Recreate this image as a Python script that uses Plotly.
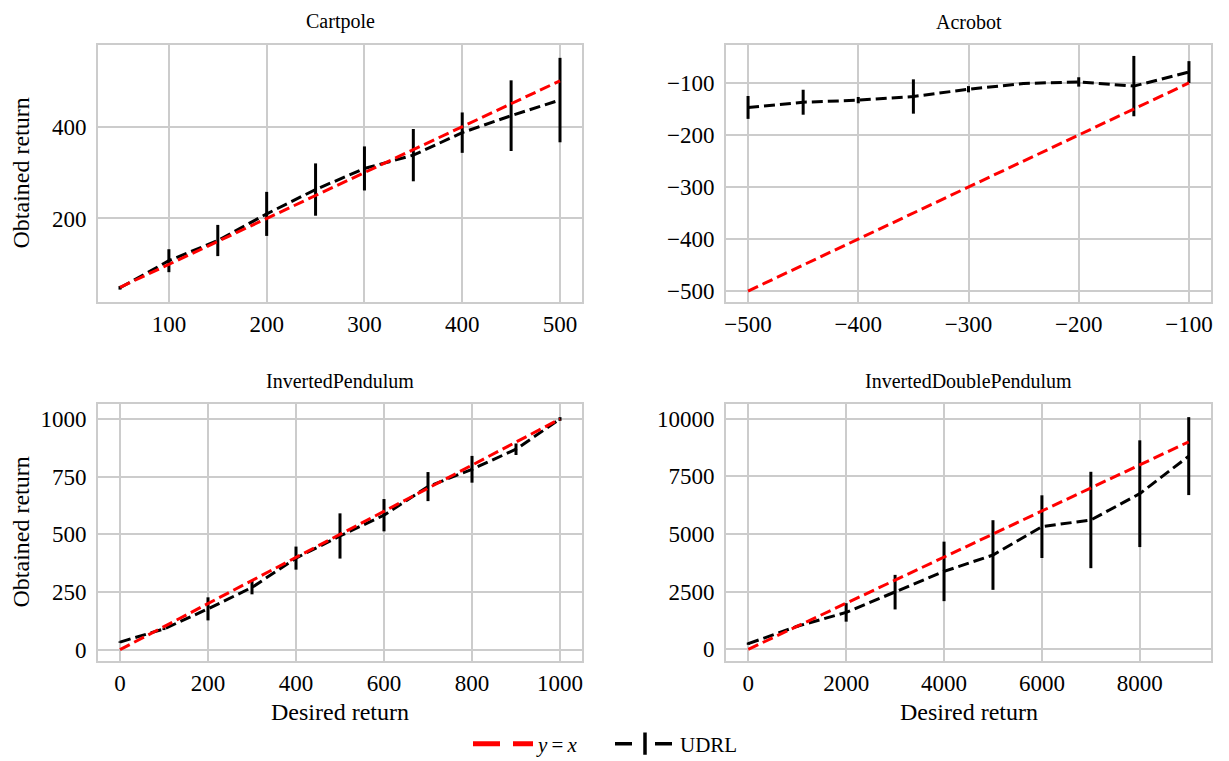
import plotly.graph_objects as go

# ---------------- data ----------------
cartpole_x = [50, 100, 150, 200, 250, 300, 350, 400, 450, 500]
cartpole_mean = [49, 108, 152, 210, 263, 309, 338, 387, 424, 458]
cartpole_err = [4, 25, 34, 48, 57, 48, 57, 44, 77, 92]

acrobot_x = [-500, -450, -400, -350, -300, -250, -200, -150, -100]
acrobot_mean = [-147, -137, -133, -126, -112, -101, -98, -106, -79]
acrobot_err = [22, 24, 6, 33, 6, 2, 9, 58, 21]

ip_x = [0, 100, 200, 300, 400, 500, 600, 700, 800, 900, 1000]
ip_mean = [33, 90, 177, 270, 397, 493, 583, 707, 782, 869, 1000]
ip_err = [3, 5, 50, 30, 50, 98, 70, 63, 58, 25, 8]

idp_x = [0, 1000, 2000, 3000, 4000, 5000, 6000, 7000, 8000, 9000]
idp_mean = [247, 1000, 1600, 2480, 3380, 4090, 5320, 5610, 6750, 8380]
idp_err = [50, 50, 400, 750, 1290, 1510, 1360, 2090, 2315, 1690]

titles = ["Cartpole", "Acrobot", "InvertedPendulum", "InvertedDoublePendulum"]
legend_names = ["<i>y</i>\u2009=\u2009<i>x</i>", "UDRL"]
x_label = "Desired return"
y_label = "Obtained return"

panels = [
    (cartpole_x, cartpole_mean, cartpole_err),
    (acrobot_x, acrobot_mean, acrobot_err),
    (ip_x, ip_mean, ip_err),
    (idp_x, idp_mean, idp_err),
]

# ---------------- layout geometry ----------------
W, H = 1229, 761
OFF = 8                      # default page body margin
FW, FH = W - OFF, H - OFF
FONT = "Liberation Serif, Times New Roman, serif"
GRID = "#cccccc"

def px_x(v):
    return (v - OFF) / FW

def px_y(v):
    return 1 - (v - OFF) / FH

col_dom = [[px_x(98), px_x(582)], [px_x(726), px_x(1211)]]
row_dom = [[px_y(302), px_y(45)], [px_y(661), px_y(404)]]

x_ranges = [[27.5, 522.5], [-520, -80], [-50, 1050], [-455, 9455]]
y_ranges = [[18, 578], [-521, -27], [-49, 1065], [-506, 10640]]
x_dticks = [100, 100, 200, 2000]
x_tick0 = [100, -500, 0, 0]
y_dticks = [200, 100, 250, 2500]
y_tick0 = [200, -500, 0, 0]

fig = go.Figure()

# legend-only entries
fig.add_trace(go.Scatter(x=[None], y=[None], mode="lines", name=legend_names[0],
                         line=dict(color="#ff0000", width=5, dash="27px,13px"),
                         showlegend=True))
fig.add_trace(go.Scatter(x=[None], y=[None], mode="lines+markers", name=legend_names[1],
                         line=dict(color="black", width=3.5, dash="17px,23px"),
                         marker=dict(symbol="line-ns", size=20,
                                     line=dict(color="black", width=3.5)),
                         showlegend=True))

for i, (xs, ms, es) in enumerate(panels):
    ax = "" if i == 0 else str(i + 1)
    xref, yref = "x" + ax, "y" + ax
    fig.add_trace(go.Scatter(
        x=xs, y=ms, mode="lines", xaxis=xref, yaxis=yref, showlegend=False,
        line=dict(color="black", width=3, dash="11px,5px"),
        error_y=dict(type="data", array=es, visible=True, color="black",
                     thickness=3, width=0)))
    fig.add_trace(go.Scatter(
        x=xs, y=xs, mode="lines", xaxis=xref, yaxis=yref, showlegend=False,
        line=dict(color="#ff0000", width=3, dash="11px,5px")))

axis_common = dict(
    showgrid=True, gridcolor=GRID, gridwidth=1.5,
    showline=True, linecolor=GRID, linewidth=2, mirror=True,
    zeroline=False, ticks="", automargin=False, tickformat="d",
    tickfont=dict(family=FONT, size=23, color="black"),
)

layout = {}
for i in range(4):
    r, c = divmod(i, 2)
    ax = "" if i == 0 else str(i + 1)
    layout["xaxis" + ax] = dict(axis_common, domain=col_dom[c], range=x_ranges[i],
                                 tick0=x_tick0[i], dtick=x_dticks[i],
                                 anchor="y" + ax, ticklabelstandoff=0)
    layout["yaxis" + ax] = dict(axis_common, domain=row_dom[r], range=y_ranges[i],
                                 tick0=y_tick0[i], dtick=y_dticks[i],
                                 anchor="x" + ax, ticklabelstandoff=5)

annotations = []
title_y_px = [22, 22, 381, 381]
for i, t in enumerate(titles):
    r, c = divmod(i, 2)
    annotations.append(dict(text=t, x=sum(col_dom[c]) / 2, y=px_y(title_y_px[i]),
                            xref="paper", yref="paper", showarrow=False,
                            xanchor="center", yanchor="middle",
                            font=dict(family=FONT, size=20, color="black")))
for r in range(2):
    annotations.append(dict(text=y_label, x=px_x(20), y=sum(row_dom[r]) / 2,
                            xref="paper", yref="paper", showarrow=False, textangle=-90,
                            xanchor="center", yanchor="middle",
                            font=dict(family=FONT, size=24, color="black")))
for c in range(2):
    annotations.append(dict(text=x_label, x=sum(col_dom[c]) / 2, y=px_y(712),
                            xref="paper", yref="paper", showarrow=False,
                            xanchor="center", yanchor="middle",
                            font=dict(family=FONT, size=24, color="black")))

fig.update_layout(
    width=FW, height=FH,
    margin=dict(l=0, r=0, t=0, b=0, pad=0, autoexpand=False),
    paper_bgcolor="white", plot_bgcolor="white",
    annotations=annotations,
    legend=dict(orientation="h", x=px_x(468), xanchor="left", y=px_y(744), yanchor="middle",
                font=dict(family=FONT, size=21, color="black"),
                itemwidth=60, entrywidth=67, bgcolor="rgba(0,0,0,0)"),
    **layout,
)

fig.write_html("out.html")
